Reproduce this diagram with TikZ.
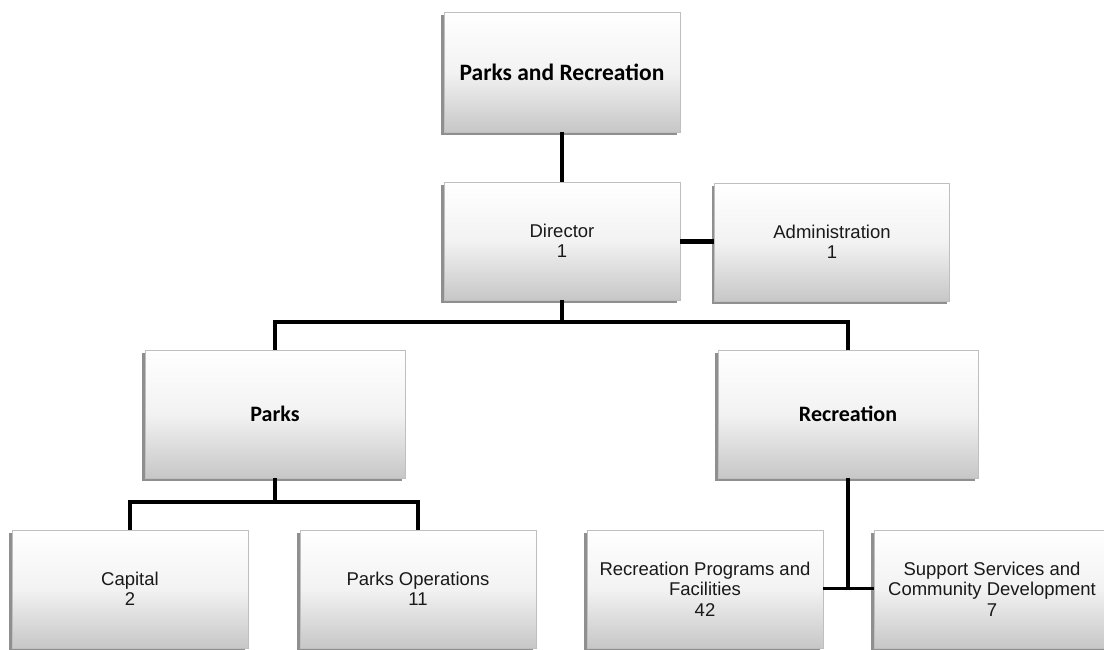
\documentclass[tikz,border=0pt]{standalone}
\usepackage{fontspec}
\setmainfont{Liberation Sans}
\newfontfamily\titlefont{Carlito}
\usetikzlibrary{shadows}
\tikzset{
  unitbox/.style={
    rectangle, draw=black!25, line width=0.6pt,
    top color=white, bottom color=black!22, middle color=black!5,
    drop shadow={shadow xshift=-3pt, shadow yshift=-3pt, fill=black!55, opacity=0.8},
    align=center, text=black!90,
    font=\fontsize{18.5}{20.5}\selectfont
  },
  headbox/.style={unitbox, text=black, font=\titlefont\bfseries\fontsize{23.5}{26}\selectfont},
  link/.style={line width=3.5pt, black}
}
\begin{document}
\begin{tikzpicture}[x=1pt, y=-1pt]
  \useasboundingbox (0,0) rectangle (1104,650);
  \clip (0,0) rectangle (1104,650);
  \fill[white] (0,0) rectangle (1104,650);

  % boxes
  \node[headbox, minimum width=236pt, minimum height=120pt] (pr) at (562,72) {Parks and Recreation};
  \node[unitbox, minimum width=236pt, minimum height=118pt] (dir) at (562,241) {Director\\1};
  \node[unitbox, minimum width=235pt, minimum height=118pt] (adm) at (832,242) {Administration\\1};
  \node[headbox, font=\titlefont\bfseries\fontsize{22}{26}\selectfont, minimum width=260pt, minimum height=128pt] (parks) at (275,414) {Parks};
  \node[headbox, font=\titlefont\bfseries\fontsize{22}{26}\selectfont, minimum width=260pt, minimum height=128pt] (rec) at (848,414) {Recreation};
  \node[unitbox, minimum width=236pt, minimum height=118pt] (cap) at (130,589) {Capital\\2};
  \node[unitbox, minimum width=236pt, minimum height=118pt] (ops) at (418,589) {Parks Operations\\11};
  \node[unitbox, minimum width=236pt, minimum height=118pt] (rpf) at (705,589) {Recreation Programs and\\Facilities\\42};
  \node[unitbox, minimum width=236pt, minimum height=118pt] (ssc) at (992,589) {Support Services and\\Community Development\\7};

  % connectors
  \draw[link] (pr.south) -- (dir.north);
  \draw[link, line width=5pt] (dir.east) -- (dir.east -| adm.west);
  \draw[link] (dir.south) -- (dir.south |- 0,322);
  \draw[link] (parks.north) -- (parks.north |- 0,322) -- (rec.north |- 0,322) -- (rec.north);
  \draw[link] (parks.south) -- (parks.south |- 0,502);
  \draw[link] (cap.north) -- (cap.north |- 0,502) -- (ops.north |- 0,502) -- (ops.north);
  \draw[link] (rec.south) -- (rec.south |- 0,588);
  \draw[link, line width=3pt] (rpf.east |- 0,588) -- (ssc.west |- 0,588);
\end{tikzpicture}
\end{document}
